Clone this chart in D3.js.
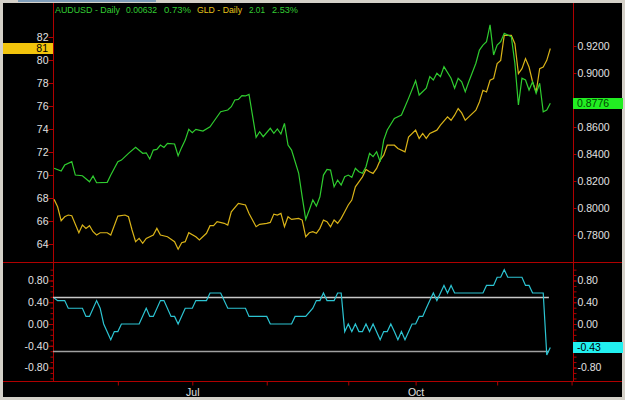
<!DOCTYPE html>
<html>
<head>
<meta charset="utf-8">
<script src="https://cdn.jsdelivr.net/npm/d3@7"></script>
<style>
  html, body { margin: 0; padding: 0; background: #d4d0c8; }
  svg { display: block; }
  text { font-family: "Liberation Sans", Arial, sans-serif; }
</style>
</head>
<body>
<div id="chart"></div>
<script>
// trading-day index (0 = first bar) and closing values
const audIdx = [0,2,3,5,6,8,10,11,12,15,16,18,19,21,23,25,26,27,28,29,30,31,32,34,35,36,37,38,39,40,42,44,45,47,49,50,51,52,53,54,55,57,58,59,61,62,63,64,65,66,67,69,70,71,72,73,74,75,76,77,78,79,80,81,82,83,84,85,86,87,88,89,90,91,92,93,94,96,98,99,100,102,103,105,106,107,108,109,110,112,113,114,115,116,117,119,120,121,122,123,124,125,126,127,128,129,130,131,132,133,134,135,136,137,138,139,140];
const audVal = [0.8294,0.8274,0.8318,0.8343,0.8244,0.8239,0.8194,0.8237,0.8187,0.8190,0.8244,0.8343,0.8355,0.8405,0.8449,0.8405,0.8409,0.8363,0.8429,0.8434,0.8466,0.8449,0.8479,0.8474,0.8387,0.8449,0.8503,0.8583,0.8558,0.8583,0.8570,0.8602,0.8639,0.8713,0.8726,0.8750,0.8800,0.8805,0.8832,0.8830,0.8842,0.8523,0.8565,0.8528,0.8590,0.8553,0.8586,0.8548,0.8627,0.8466,0.8429,0.8259,0.8083,0.7916,0.7985,0.8059,0.8014,0.8083,0.8244,0.8286,0.8281,0.8157,0.8207,0.8170,0.8232,0.8244,0.8227,0.8294,0.8269,0.8257,0.8306,0.8405,0.8380,0.8417,0.8343,0.8503,0.8578,0.8664,0.8689,0.8750,0.8812,0.8943,0.8837,0.8887,0.8973,0.8948,0.8998,0.8973,0.9047,0.8961,0.8887,0.8961,0.8935,0.8861,0.8935,0.9072,0.9170,0.9207,0.9232,0.9356,0.9133,0.9207,0.9232,0.9294,0.9282,0.9269,0.9072,0.8763,0.8961,0.8948,0.8874,0.8935,0.8850,0.8924,0.8713,0.8726,0.8776];

const gldIdx = [0,1,2,3,4,5,7,8,9,10,11,12,13,15,16,18,20,21,22,23,24,25,26,28,29,30,32,34,35,36,37,38,40,41,43,44,45,46,48,49,50,52,54,55,57,58,60,61,62,63,64,65,66,67,69,70,71,72,73,74,75,76,77,78,79,80,81,82,83,84,85,86,87,88,89,90,91,92,93,94,96,97,99,100,102,103,104,105,106,108,109,111,112,113,114,115,116,117,119,120,121,122,123,124,125,126,127,128,129,130,131,132,133,134,135,136,137,138,139,140];
const gldVal = [67.88,67.24,66.02,66.37,66.52,66.46,64.98,65.65,65.36,65.59,65.07,64.78,64.98,64.98,64.78,66.43,66.52,66.37,65.22,64.20,64.49,64.06,64.49,64.78,65.36,64.78,64.63,64.20,63.54,64.11,64.20,64.98,64.63,64.35,64.93,65.59,65.59,65.94,65.80,65.65,66.80,67.53,67.39,66.66,65.50,65.71,65.80,65.88,66.60,66.52,66.66,65.50,66.37,66.14,66.23,66.08,64.63,64.98,65.07,64.93,65.36,66.08,65.94,65.50,66.08,65.80,66.23,66.80,67.39,67.82,68.97,69.41,69.84,70.48,70.28,70.14,70.57,71.29,71.73,72.59,72.59,72.31,72.01,73.29,73.90,73.18,73.61,73.18,73.61,73.90,74.33,75.05,74.76,75.20,75.78,75.40,74.76,75.05,75.63,76.35,77.37,77.22,78.24,78.38,79.69,79.97,82.14,82.14,82.14,81.42,78.82,79.25,80.12,79.39,78.09,77.22,79.25,79.39,79.97,81.00];

const corIdx = [0,1,3,4,8,9,10,12,13,14,16,17,18,19,24,26,27,28,30,31,33,34,35,37,39,40,43,44,47,49,54,55,60,61,67,68,71,73,74,75,76,77,79,80,81,82,83,84,85,86,87,88,89,90,92,93,94,95,96,97,98,99,101,102,103,104,105,106,107,108,109,110,111,112,113,121,122,124,125,126,127,128,132,133,134,135,138,139,140];
const corVal = [0.48,0.43,0.43,0.29,0.29,0.14,0.14,0.43,0.29,0.0,-0.29,-0.14,-0.14,0.0,0.0,0.29,0.14,0.14,0.43,0.43,0.14,0.14,0.0,0.29,0.29,0.43,0.43,0.57,0.57,0.29,0.29,0.14,0.14,0.0,0.0,0.14,0.14,0.29,0.43,0.43,0.57,0.43,0.43,0.57,0.57,-0.14,0.0,-0.14,0.0,-0.14,-0.14,0.0,-0.14,0.0,-0.29,-0.14,-0.14,0.0,-0.14,-0.29,-0.14,-0.29,0.0,0.0,0.14,0.14,0.29,0.43,0.57,0.43,0.57,0.71,0.57,0.71,0.57,0.57,0.71,0.71,0.86,0.86,1.0,0.86,0.86,0.71,0.71,0.57,0.57,-0.57,-0.43];

const corBands = [0.5, -0.5];

const monthTickIdx = [18, 39, 60, 83, 102, 125, 146];
const monthLabels = ["", "Jul", "", "", "Oct", "", ""];

const gldTicks = [64, 66, 68, 70, 72, 74, 76, 78, 80, 82];
const audTicks = [0.78, 0.80, 0.82, 0.84, 0.86, 0.88, 0.90, 0.92];
const corTicks = [0.8, 0.4, 0, -0.4, -0.8];

const titleParts = [
  { text: "AUDUSD - Daily", color: "#33cc33", x: 55, w: 65 },
  { text: "0.00632", color: "#33cc33", x: 126, w: 31 },
  { text: "0.73%", color: "#33cc33", x: 164, w: 27 },
  { text: "GLD - Daily", color: "#e6c21a", x: 197, w: 45 },
  { text: "2.01", color: "#33cc33", x: 249, w: 16 },
  { text: "2.53%", color: "#33cc33", x: 272, w: 26 }
];

const W = 625, H = 400;
const red = "#b00000", labelColor = "#e0e0e0";
const left = 53, right = 573;
const markerH = 11;

const svg = d3.select("#chart").append("svg")
  .attr("width", W)
  .attr("height", H);

// window frame
svg.append("rect").attr("width", W).attr("height", H).attr("fill", "#d4d0c8");
svg.append("rect").attr("x", 18).attr("y", 0).attr("width", 138).attr("height", 2).attr("fill", "#7f9db9");
svg.append("rect").attr("x", 3).attr("y", 3).attr("width", 619).attr("height", 394).attr("fill", "#000");

const x = d3.scaleLinear().domain([-0.3, 146.4]).range([left, right]);
const yGld = d3.scaleLinear().domain([64, 82]).range([244, 37]);
const yAud = d3.scaleLinear().domain([0.78, 0.92]).range([235, 46]);
const yCor = d3.scaleLinear().domain([-0.8, 0.8]).range([367.5, 280.5]);

const lastGld = gldVal[gldVal.length - 1];
const lastAud = audVal[audVal.length - 1];
const lastCor = corVal[corVal.length - 1];

// frame lines
const frame = svg.append("g").attr("stroke", red).attr("stroke-width", 1);
frame.append("line").attr("x1", left + 0.5).attr("x2", left + 0.5).attr("y1", 3).attr("y2", 381);
frame.append("line").attr("x1", right + 0.5).attr("x2", right + 0.5).attr("y1", 3).attr("y2", 381);
frame.append("line").attr("x1", 3).attr("x2", 622).attr("y1", 262.5).attr("y2", 262.5);
frame.append("line").attr("x1", 3).attr("x2", 622).attr("y1", 381.5).attr("y2", 381.5);

function styleAxis(g) {
  g.select(".domain").remove();
  g.selectAll(".tick line").attr("stroke", red);
  g.selectAll(".tick text")
    .attr("fill", labelColor)
    .style("font-family", '"Liberation Sans", Arial, sans-serif')
    .style("font-size", "10.5px");
}

// labels sitting under a last-value marker are hidden, as on the chart
const freeOf = (scale, v) => t => Math.abs(scale(t) - scale(v)) > markerH - 1;

// upper panel axes
svg.append("g").attr("transform", `translate(${left + 0.5},0)`)
  .call(d3.axisLeft(yGld).tickValues(gldTicks).tickSize(5).tickPadding(0).tickFormat(d3.format("d")))
  .call(styleAxis);
svg.append("g").attr("transform", `translate(${right + 0.5},0)`)
  .call(d3.axisRight(yAud).tickValues(audTicks).tickSize(3).tickPadding(1)
    .tickFormat(d => freeOf(yAud, lastAud)(d) ? d.toFixed(4) : ""))
  .call(styleAxis);

// lower panel axes (minor + major)
const corMinor = d3.range(-10, 11).map(d => d / 10);
svg.append("g").attr("transform", `translate(${left + 0.5},0)`)
  .call(d3.axisLeft(yCor).tickValues(corMinor).tickSize(3).tickFormat(""))
  .call(styleAxis);
svg.append("g").attr("transform", `translate(${left + 0.5},0)`)
  .call(d3.axisLeft(yCor).tickValues(corTicks).tickSize(5).tickPadding(0).tickFormat(d => d.toFixed(2)))
  .call(styleAxis);
svg.append("g").attr("transform", `translate(${right + 0.5},0)`)
  .call(d3.axisRight(yCor).tickValues(corMinor).tickSize(3).tickFormat(""))
  .call(styleAxis);
svg.append("g").attr("transform", `translate(${right + 0.5},0)`)
  .call(d3.axisRight(yCor).tickValues(corTicks).tickSize(3).tickPadding(1)
    .tickFormat(d => freeOf(yCor, lastCor)(d) ? d.toFixed(2) : ""))
  .call(styleAxis);

// x axis
svg.append("g").attr("transform", "translate(0,381.5)")
  .call(d3.axisBottom(x).tickValues(monthTickIdx).tickSize(4).tickPadding(3).tickFormat((d, i) => monthLabels[i]))
  .call(styleAxis);

// band lines in the lower panel
const lastIdx = d3.max(corIdx);
svg.append("g").selectAll("line.band")
  .data(corBands)
  .enter()
  .append("line")
  .attr("class", "band")
  .attr("x1", left)
  .attr("x2", x(lastIdx - 0.4))
  .attr("y1", d => Math.round(yCor(d)) + 0.5)
  .attr("y2", d => Math.round(yCor(d)) + 0.5)
  .attr("stroke", (d, i) => i === 0 ? "#c8c8c8" : "#a0a0a0")
  .attr("stroke-width", 1.5);

// series
const gldLine = d3.line().x(d => x(d[0])).y(d => yGld(d[1]));
const audLine = d3.line().x(d => x(d[0])).y(d => yAud(d[1]));
const corLine = d3.line().x(d => x(d[0])).y(d => yCor(d[1]));

svg.append("path").datum(d3.zip(gldIdx, gldVal))
  .attr("fill", "none").attr("stroke", "#d9b318").attr("stroke-width", 1.2).attr("d", gldLine);
svg.append("path").datum(d3.zip(audIdx, audVal))
  .attr("fill", "none").attr("stroke", "#2fcc2f").attr("stroke-width", 1.2).attr("d", audLine);
svg.append("path").datum(d3.zip(corIdx, corVal))
  .attr("fill", "none").attr("stroke", "#2cc4d2").attr("stroke-width", 1.2).attr("d", corLine);

// last value markers on the axes
function marker(cx, cy, w, label, fill, textColor, anchor) {
  svg.append("rect")
    .attr("x", cx).attr("y", Math.round(cy - markerH / 2))
    .attr("width", w).attr("height", markerH)
    .attr("fill", fill);
  svg.append("text")
    .attr("x", anchor === "end" ? cx + w - 5 : cx + 4)
    .attr("y", cy)
    .attr("dy", "0.36em")
    .attr("text-anchor", anchor)
    .attr("fill", textColor)
    .style("font-size", "10.5px")
    .text(label);
}
marker(3, yGld(lastGld), 50, lastGld.toFixed(0), "#f2c40c", "#000", "end");
marker(right, yAud(lastAud), 50, lastAud.toFixed(4), "#22ee22", "#004400", "start");
marker(right, yCor(lastCor), 50, lastCor.toFixed(2), "#22f0f0", "#000", "start");

// title
svg.append("g").selectAll("text")
  .data(titleParts)
  .enter()
  .append("text")
  .attr("x", d => d.x)
  .attr("y", 13)
  .attr("textLength", d => d.w)
  .attr("lengthAdjust", "spacingAndGlyphs")
  .attr("fill", d => d.color)
  .style("font-size", "9.5px")
  .text(d => d.text);
</script>
</body>
</html>
